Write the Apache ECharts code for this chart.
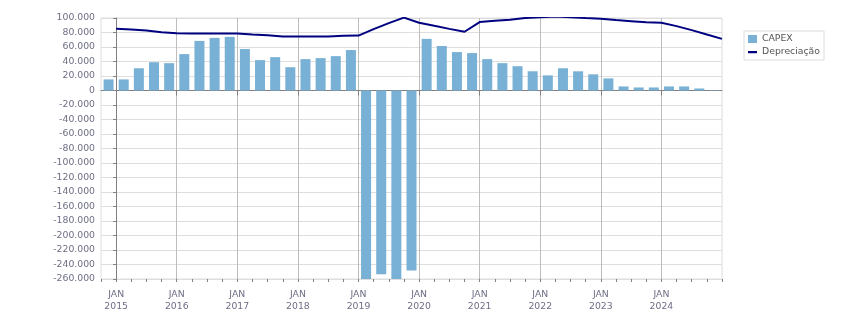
<!DOCTYPE html>
<html>
<head>
<meta charset="utf-8">
<script src="https://cdn.jsdelivr.net/npm/echarts@6/dist/echarts.min.js"></script>
<style>
  html, body { margin: 0; padding: 0; background: #fff; }
  #main { width: 851px; height: 313px; }
</style>
</head>
<body>
<div id="main"></div>
<script>
// valores em milhares, um por trimestre (jan/2015 .. jan/2025)
var years = ['2015', '2016', '2017', '2018', '2019', '2020', '2021', '2022', '2023', '2024'];
var capex = [15.3, 15.3, 30.7, 39, 37.7, 50.2, 68.4, 72.6, 74, 57.2,
  41.9, 46, 32.1, 43.3, 44.7, 47.4, 55.8, -261, -253.6, -261,
  -248.3, 71.2, 61.4, 53, 51.6, 43.3, 37.7, 33.5, 26.5, 20.9,
  30.7, 26.5, 22.3, 16.7, 5.6, 4.2, 4.2, 5.6, 5.6, 2.8, 0.5];
var depreciacao = [85.2, 84.3, 82.6, 80.2, 79, 78.6, 78.6, 78.6, 78.6, 77.2,
  76.2, 74.6, 74.4, 74.4, 74.4, 75.5, 75.8, 84.7, 93, 100.5,
  93.5, 89.2, 85, 81, 94.4, 96.3, 97.7, 100, 101, 102,
  101.2, 100, 99, 97.2, 95.6, 94, 93.5, 88.8, 83.3, 77.2, 71.2];

var chart = echarts.init(document.getElementById('main'));

// eixo x em meses a partir de jan/2015
var janMonths = years.map(function (y, i) { return i * 12; });
var barData = capex.map(function (v, i) { return [i * 3 - 1.5, v]; });
var lineData = depreciacao.map(function (v, i) { return [i * 3, v]; });

var font = 'DejaVu Sans';
var labelColor = '#6e6e86';
// traço horizontal para a legenda da linha (as lascas finas fixam a caixa 9x8)
var lineIcon = 'path://M0,0L9,0L9,0.01L0,0.01Z M0,3L9,3L9,5.2L0,5.2Z M0,7.99L9,7.99L9,8L0,8Z';

var option = {
  animation: false,
  grid: {
    left: 101, right: 129, top: 18, bottom: 34,
    show: true, borderColor: '#dcdcdc', borderWidth: 1
  },
  legend: {
    orient: 'vertical',
    left: 744, top: 31,
    padding: [2, 4, 2, 4],
    itemGap: 1,
    itemWidth: 9, itemHeight: 8,
    borderColor: '#dcdcdc', borderWidth: 1,
    textStyle: { fontFamily: font, fontSize: 9.3, color: '#555', lineHeight: 12 },
    data: [{ name: 'CAPEX', icon: 'rect' }, { name: 'Depreciação', icon: lineIcon }]
  },
  xAxis: [
    {
      type: 'value', min: -3, max: 120,
      axisLine: { lineStyle: { color: '#808080' } },
      axisTick: { customValues: janMonths, length: 5, lineStyle: { color: '#808080' } },
      axisLabel: {
        customValues: janMonths,
        fontFamily: font, fontSize: 9.3, color: labelColor, lineHeight: 12.5, margin: 9,
        formatter: function (v) { return 'JAN\n' + years[Math.round(v / 12)]; }
      },
      splitLine: { show: true, lineStyle: { color: '#bdbdbd' } }
    },
    {
      type: 'value', min: -3, max: 120, interval: 3, position: 'bottom',
      axisLine: { show: false },
      axisTick: { length: 3, lineStyle: { color: '#808080' } },
      axisLabel: { show: false },
      splitLine: { show: false }
    }
  ],
  yAxis: {
    type: 'value', min: -260, max: 100, interval: 20,
    axisLine: { show: true, lineStyle: { color: '#808080' } },
    axisTick: { show: true, length: 3, lineStyle: { color: '#808080' } },
    axisLabel: {
      fontFamily: font, fontSize: 9.3, color: labelColor, margin: 6,
      formatter: function (v) { return v === 0 ? '0' : v + '.000'; }
    },
    splitLine: { lineStyle: { color: '#dedede' } }
  },
  series: [
    {
      name: 'CAPEX', type: 'bar', barWidth: 10,
      itemStyle: { color: '#78b1d5' },
      data: barData
    },
    {
      name: 'Depreciação', type: 'line', symbol: 'none',
      lineStyle: { color: '#000080', width: 2 },
      itemStyle: { color: '#000080' },
      data: lineData
    }
  ]
};
chart.setOption(option);
</script>
</body>
</html>
